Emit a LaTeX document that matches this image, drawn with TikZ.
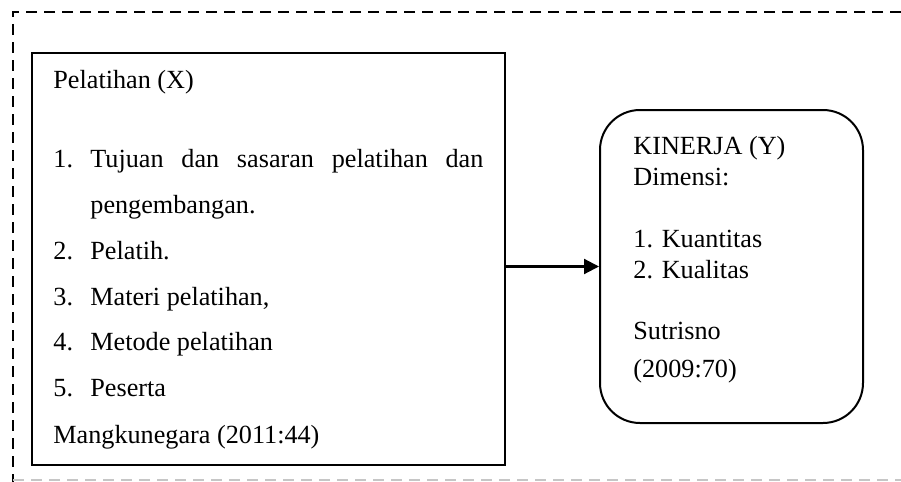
\documentclass[tikz,border=0pt]{standalone}
\usepackage{fontspec}
\setmainfont{Liberation Serif}
\usetikzlibrary{arrows.meta}
\begin{document}
\begin{tikzpicture}[x=0.5pt,y=-0.5pt,
  txt/.style={anchor=base west,inner sep=0pt,font=\fontsize{13.1}{16}\selectfont},
  boxline/.style={line width=1pt},
  frameline/.style={line width=1.3pt,dash pattern=on 5.5pt off 3.5pt}]
\useasboundingbox (0,0) rectangle (901,482);
% dashed frame
\coordinate (ftl) at (13,12);
\coordinate (ftr) at (901,12);
\coordinate (fbl) at (13,482);
\coordinate (fb1) at (13,480);
\coordinate (fb2) at (901,480);
\draw[frameline] (ftr) -- (ftl) -- (fbl);
\draw[frameline,gray!45] (fb1) -- (fb2);
% boxes
\node[draw,boxline,minimum width=236.5pt,minimum height=206pt,inner sep=0pt] (left) at (268.5,259) {};
\node[draw,boxline,rounded corners=20pt,minimum width=131.5pt,minimum height=156.5pt,inner sep=0pt] (right) at (731.5,266.5) {};
% left text
\node[txt] (l0) at (53,88) {Pelatihan (X)};
\node[txt] (l1n) at (53,167) {1.};
\node[txt] (l1) at (90,167) {\makebox[196.5pt][s]{Tujuan dan sasaran pelatihan dan}};
\node[txt] (l1b) at (90,213) {pengembangan.};
\node[txt] (l2n) at (53,259) {2.};
\node[txt] (l2) at (90,259) {Pelatih.};
\node[txt] (l3n) at (53,305) {3.};
\node[txt] (l3) at (90,305) {Materi pelatihan,};
\node[txt] (l4n) at (53,350) {4.};
\node[txt] (l4) at (90,350) {Metode pelatihan};
\node[txt] (l5n) at (53,396) {5.};
\node[txt] (l5) at (90,396) {Peserta};
\node[txt] (l6) at (53,443) {Mangkunegara (2011:44)};
% right text
\node[txt] (r0) at (633,154) {KINERJA (Y)};
\node[txt] (r1) at (633,185) {Dimensi:};
\node[txt] (r2) at (633,247) {1. Kuantitas};
\node[txt] (r3) at (633,278) {2. Kualitas};
\node[txt] (r4) at (633,339) {Sutrisno};
\node[txt] (r5) at (633,377) {(2009:70)};
% arrow
\draw[line width=1.1pt,-{Triangle[length=7.5pt,width=7.5pt]}] (right.west -| left.east) -- (right.west);
\end{tikzpicture}
\end{document}
